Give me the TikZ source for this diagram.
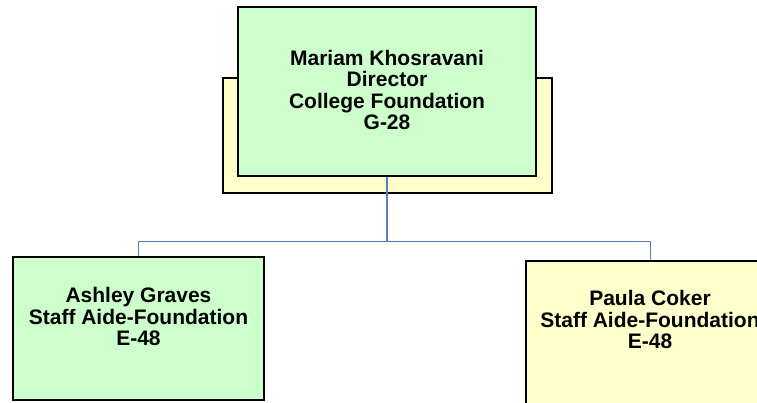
\documentclass[tikz,border=0pt]{standalone}
\usepackage{fontspec}
\setmainfont{Liberation Sans}
\definecolor{boxgreen}{RGB}{204,255,204}
\definecolor{boxyellow}{RGB}{255,255,204}
\definecolor{linkblue}{RGB}{79,129,189}
\begin{document}
\begin{tikzpicture}[x=1pt,y=-1pt,
  box/.style={draw=black,line width=1.6pt,rectangle,inner sep=0pt},
  lbl/.style={align=center,font=\fontsize{21}{21.5}\selectfont\bfseries,inner sep=0pt},
  conn/.style={draw=linkblue,line width=1.4pt}]
\useasboundingbox (0,0) rectangle (757,402);
\clip (0,0) rectangle (757,402);
% back card of the top position
\node[box,fill=boxyellow,minimum width=329pt,minimum height=115pt] (back) at (387.5,135.5) {};
\node[box,fill=boxgreen,minimum width=298pt,minimum height=169pt] (boss) at (387,91.5) {};
\node[lbl] (bosst) at (387,90) {Mariam Khosravani\\Director\\College Foundation\\G-28};
% subordinates
\node[box,fill=boxgreen,minimum width=251pt,minimum height=143pt] (a) at (138.5,328.5) {};
\node[lbl] (at) at (138.5,316.5) {Ashley Graves\\Staff Aide-Foundation\\E-48};
\node[box,fill=boxyellow,minimum width=249pt,minimum height=170pt] (b) at (650.5,346) {};
\node[lbl] (bt) at (650,319.5) {Paula Coker\\Staff Aide-Foundation\\E-48};
% connectors
\coordinate (bus) at (387,241.5);
\draw[conn] (boss.south) -- (bus);
\draw[conn] (bus) -| (a.north);
\draw[conn] (bus) -| (b.north);
\end{tikzpicture}
\end{document}
